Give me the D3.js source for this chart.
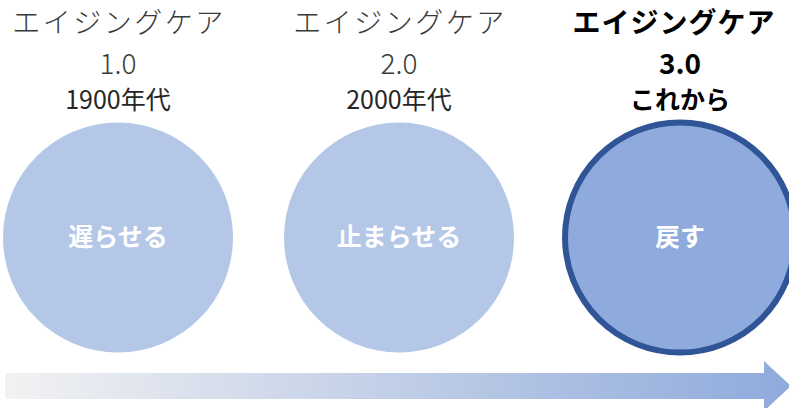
<!DOCTYPE html>
<html><head><meta charset="utf-8">
<script src="https://cdn.jsdelivr.net/npm/d3@7"></script>
<style>
html,body{margin:0;padding:0;background:#fff;}
svg{display:block;}
text{font-family:"Noto Sans CJK JP","Noto Sans",sans-serif;}
</style></head><body>
<svg id="c" width="789" height="408"></svg>
<script>
const stages = ["1.0", "2.0", "3.0"];
const titles = ["エイジングケア", "エイジングケア", "エイジングケア"];
const eras = ["1900年代", "2000年代", "これから"];
const actions = ["遅らせる", "止まらせる", "戻す"];
const highlighted = [false, false, true];

const svg = d3.select("#c");
const x = d3.scalePoint().domain(stages).range([118, 680]);
const cy = 237.5, r = 115;

const defs = svg.append("defs");
const g = defs.append("linearGradient").attr("id", "ag")
  .attr("gradientUnits", "userSpaceOnUse")
  .attr("x1", 5).attr("x2", 789).attr("y1", 0).attr("y2", 0);
g.append("stop").attr("offset", "0").attr("stop-color", "#f2f2f2");
g.append("stop").attr("offset", "1").attr("stop-color", "#8faadc");

// arrow
const ay = d3.scaleLinear().domain([0, 1]).range([373, 399]);
const arrow = d3.path();
arrow.moveTo(5, ay(0));
arrow.lineTo(764, ay(0));
arrow.lineTo(764, 361);
arrow.lineTo(791, 386);
arrow.lineTo(764, 411);
arrow.lineTo(764, ay(1));
arrow.lineTo(5, ay(1));
arrow.closePath();
svg.append("path").attr("d", arrow.toString()).attr("fill", "url(#ag)");

const data = stages.map((s, i) => ({ stage: s, title: titles[i], era: eras[i], action: actions[i], hi: highlighted[i] }));

const grp = svg.selectAll("g.stage").data(data).join("g").attr("class", "stage");

grp.append("circle")
  .attr("cx", d => x(d.stage)).attr("cy", cy)
  .attr("r", r)
  .attr("fill", d => d.hi ? "#8faadc" : "#b4c7e7")
  .attr("stroke", d => d.hi ? "#2f5597" : "none")
  .attr("stroke-width", d => d.hi ? 6 : 0);

grp.append("text")
  .attr("x", d => x(d.stage)).attr("y", 246)
  .attr("text-anchor", "middle")
  .attr("fill", "#ffffff")
  .attr("font-size", 25).attr("font-weight", 700)
  .text(d => d.action);

grp.append("text")
  .attr("x", d => x(d.stage) + (d.hi ? -6 : 1)).attr("y", 33)
  .attr("text-anchor", "middle")
  .attr("fill", d => d.hi ? "#000" : "#3a3a3a")
  .attr("font-size", 28).attr("font-weight", d => d.hi ? 700 : 300)
  .attr("letter-spacing", d => d.hi ? 1 : 2.5)
  .text(d => d.title);

grp.append("text")
  .attr("x", d => x(d.stage)).attr("y", 74)
  .attr("text-anchor", "middle")
  .attr("fill", d => d.hi ? "#000" : "#3a3a3a")
  .attr("font-size", 28).attr("font-weight", d => d.hi ? 700 : 300)
  .text(d => d.stage);

grp.append("text")
  .attr("x", d => x(d.stage)).attr("y", 109)
  .attr("text-anchor", "middle")
  .attr("fill", d => d.hi ? "#000" : "#262626")
  .attr("font-size", 25).attr("font-weight", d => d.hi ? 700 : 400)
  .text(d => d.era);
</script>
</body></html>
